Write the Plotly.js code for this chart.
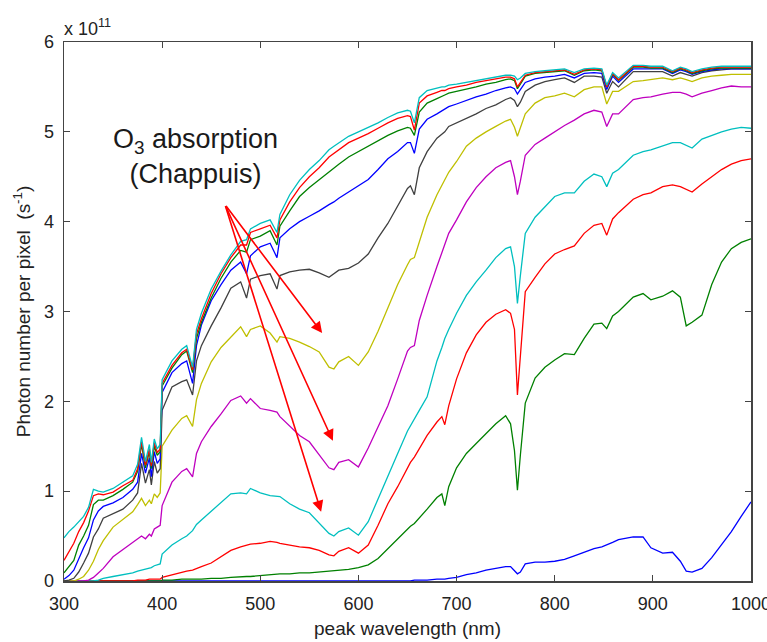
<!DOCTYPE html>
<html>
<head>
<meta charset="utf-8">
<script src="https://cdn.plot.ly/plotly-3.0.1.min.js"></script>
<style>html,body{margin:0;padding:0;background:#fff;}#chart{width:767px;height:642px;}</style>
</head>
<body>
<div id="chart"></div>
<script>
// wavelength grid (nm)
const wavelength = [300,305,310,315,320,325,330,335,340,350,
360,370,375,379,383,387,389,392,395,398,
400,410,420,425,431,435,440,450,460,470,
480,486,490,500,510,517,520,530,540,550,
560,570,575,580,590,600,610,620,630,640,
650,653,657,662,670,680,685,688,692,700,
710,720,730,740,750,755,759,762,765,770,
780,790,800,810,820,830,840,848,853,859,
865,880,890,898,910,920,928,934,940,950,
960,970,980,990,1000];

// photon number per pixel (units of 1e11 s^-1), one array per curve, bottom to top
const blue1 = [0,0,0,0,0,0,0,0,0,0,
0,0,0,0,0,0,0,0,0,0,
0,0,0,0,0,0,0,0,0,0,
0,0,0,0,0,0,0,0,0,0,
0,0,0,0,0,0,0,0,0,0,
0,0,0.01,0.01,0.01,0.02,0.02,0.02,0.03,0.04,
0.07,0.09,0.12,0.14,0.16,0.16,0.12,0.08,0.10,0.19,
0.21,0.21,0.22,0.24,0.28,0.32,0.36,0.38,0.40,0.43,
0.46,0.49,0.49,0.37,0.31,0.32,0.22,0.11,0.10,0.14,
0.26,0.40,0.55,0.72,0.88];

const green1 = [0,0,0,0,0,0,0,0,0,0,
0,0,0,0,0,0,0,0,0,0,
0.01,0.01,0.02,0.02,0.02,0.02,0.02,0.03,0.03,0.04,
0.05,0.05,0.05,0.06,0.07,0.08,0.08,0.08,0.09,0.09,
0.10,0.11,0.11,0.12,0.13,0.15,0.18,0.25,0.36,0.47,
0.58,0.61,0.64,0.70,0.80,0.93,0.97,0.84,1.05,1.26,
1.42,1.53,1.64,1.75,1.84,1.75,1.45,1.01,1.40,1.98,
2.26,2.38,2.46,2.53,2.52,2.70,2.86,2.87,2.81,2.95,
3.00,3.16,3.20,3.13,3.17,3.23,3.16,2.84,2.88,2.96,
3.30,3.55,3.70,3.77,3.81];

const red1 = [0,0,0,0,0,0,0,0,0,0,
0,0,0.01,0.01,0.01,0.02,0.02,0.02,0.02,0.02,
0.04,0.07,0.10,0.11,0.12,0.14,0.16,0.20,0.27,0.34,
0.38,0.40,0.41,0.42,0.44,0.43,0.42,0.40,0.38,0.37,
0.34,0.29,0.28,0.33,0.37,0.31,0.40,0.62,0.86,1.05,
1.26,1.32,1.38,1.47,1.62,1.77,1.83,1.74,1.95,2.25,
2.54,2.74,2.88,2.97,3.02,2.98,2.80,2.07,2.50,3.22,
3.38,3.53,3.64,3.69,3.73,3.87,3.96,3.98,3.85,4.03,
4.10,4.25,4.30,4.32,4.39,4.41,4.39,4.36,4.33,4.42,
4.50,4.58,4.64,4.68,4.70];

const cyan1 = [0,0,0,0,0,0,0,0.01,0.03,0.05,
0.07,0.09,0.11,0.12,0.13,0.14,0.15,0.17,0.18,0.19,
0.30,0.40,0.47,0.50,0.56,0.63,0.68,0.78,0.88,0.97,
0.98,0.97,1.03,0.98,0.95,0.94,0.94,0.86,0.80,0.76,
0.64,0.53,0.50,0.55,0.59,0.51,0.66,0.92,1.18,1.42,
1.67,1.73,1.80,1.90,2.05,2.45,2.60,2.70,2.80,2.98,
3.18,3.33,3.46,3.60,3.70,3.72,3.50,3.09,3.40,3.87,
4.05,4.16,4.28,4.32,4.32,4.45,4.53,4.50,4.39,4.54,
4.58,4.74,4.78,4.80,4.84,4.88,4.88,4.85,4.82,4.92,
4.96,5.00,5.03,5.05,5.04];

const magenta = [0,0,0,0,0,0.01,0.04,0.09,0.14,0.27,
0.35,0.43,0.47,0.50,0.47,0.52,0.50,0.58,0.60,0.62,
0.84,1.10,1.22,1.25,1.16,1.42,1.55,1.72,1.86,2.01,
2.06,1.98,2.03,1.92,1.90,1.88,1.83,1.72,1.62,1.55,
1.40,1.26,1.24,1.32,1.35,1.27,1.48,1.72,1.95,2.25,
2.56,2.60,2.62,2.90,3.18,3.50,3.65,3.74,3.87,4.02,
4.22,4.38,4.50,4.60,4.66,4.68,4.50,4.30,4.45,4.74,
4.86,4.93,5.00,5.07,5.13,5.20,5.24,5.22,5.06,5.20,
5.20,5.36,5.38,5.39,5.42,5.44,5.44,5.42,5.39,5.43,
5.46,5.49,5.51,5.50,5.50];

const yellow = [0,0,0,0.02,0.05,0.12,0.22,0.35,0.45,0.60,
0.68,0.77,0.85,0.92,0.84,0.90,0.86,0.97,0.93,0.98,
1.50,1.68,1.81,1.84,1.72,2.02,2.20,2.44,2.60,2.72,
2.83,2.72,2.80,2.84,2.76,2.66,2.72,2.70,2.66,2.61,
2.55,2.38,2.36,2.44,2.50,2.40,2.55,2.78,3.05,3.30,
3.52,3.58,3.60,3.78,4.05,4.30,4.40,4.46,4.55,4.67,
4.84,4.93,5.00,5.06,5.12,5.14,5.05,4.95,5.05,5.20,
5.32,5.38,5.40,5.43,5.39,5.47,5.50,5.50,5.31,5.45,
5.45,5.56,5.57,5.58,5.60,5.58,5.60,5.58,5.56,5.60,
5.62,5.63,5.64,5.64,5.64];

const black = [0,0.01,0.03,0.10,0.20,0.31,0.49,0.58,0.70,0.75,
0.80,0.90,0.98,1.31,1.09,1.24,1.07,1.33,1.20,1.25,
1.90,2.16,2.22,2.24,2.07,2.45,2.62,2.84,3.04,3.26,
3.33,3.15,3.36,3.40,3.42,3.25,3.40,3.44,3.46,3.47,
3.43,3.38,3.42,3.46,3.48,3.54,3.64,3.82,3.98,4.18,
4.37,4.40,4.30,4.60,4.78,4.93,4.98,5.00,5.06,5.10,
5.15,5.20,5.26,5.30,5.36,5.38,5.35,5.28,5.33,5.45,
5.52,5.56,5.58,5.60,5.55,5.62,5.62,5.61,5.43,5.56,
5.50,5.67,5.67,5.67,5.67,5.62,5.66,5.64,5.62,5.66,
5.68,5.69,5.70,5.70,5.70];

const blue2 = [0.02,0.06,0.12,0.25,0.37,0.48,0.68,0.78,0.83,0.87,
0.93,1.02,1.10,1.42,1.20,1.37,1.16,1.44,1.31,1.36,
2.10,2.32,2.42,2.45,2.20,2.62,2.85,3.12,3.30,3.46,
3.55,3.42,3.62,3.72,3.76,3.60,3.82,3.92,4.00,4.06,
4.12,4.19,4.22,4.26,4.33,4.40,4.47,4.58,4.70,4.78,
4.88,4.88,4.76,5.03,5.14,5.20,5.23,5.25,5.28,5.31,
5.35,5.39,5.42,5.46,5.49,5.50,5.48,5.42,5.47,5.55,
5.59,5.61,5.62,5.64,5.60,5.65,5.66,5.65,5.47,5.62,
5.55,5.70,5.70,5.70,5.70,5.65,5.69,5.67,5.64,5.67,
5.69,5.70,5.70,5.70,5.70];

const green2 = [0.09,0.16,0.23,0.40,0.50,0.62,0.85,0.90,0.90,0.95,
1.02,1.10,1.22,1.52,1.26,1.44,1.25,1.50,1.40,1.44,
2.17,2.37,2.52,2.56,2.32,2.70,2.88,3.15,3.37,3.55,
3.68,3.66,3.80,3.84,3.90,3.74,3.95,4.12,4.28,4.38,
4.47,4.56,4.60,4.64,4.72,4.78,4.84,4.90,4.96,5.01,
5.05,5.04,4.96,5.22,5.32,5.37,5.40,5.41,5.43,5.45,
5.47,5.50,5.53,5.55,5.58,5.59,5.57,5.48,5.53,5.62,
5.65,5.66,5.67,5.68,5.63,5.68,5.69,5.68,5.50,5.64,
5.57,5.72,5.72,5.71,5.71,5.66,5.70,5.68,5.65,5.68,
5.70,5.71,5.71,5.71,5.71];

const red2 = [0.23,0.33,0.42,0.55,0.65,0.78,0.95,0.97,0.96,0.99,
1.06,1.12,1.25,1.55,1.29,1.47,1.28,1.54,1.43,1.47,
2.20,2.40,2.54,2.58,2.35,2.75,2.92,3.20,3.42,3.60,
3.74,3.74,3.88,3.92,3.96,3.82,4.02,4.22,4.38,4.50,
4.60,4.72,4.76,4.80,4.88,4.93,4.98,5.04,5.10,5.15,
5.18,5.17,5.02,5.32,5.40,5.44,5.46,5.46,5.48,5.50,
5.52,5.55,5.57,5.59,5.61,5.61,5.59,5.50,5.55,5.63,
5.66,5.67,5.68,5.69,5.64,5.69,5.70,5.69,5.50,5.65,
5.58,5.73,5.73,5.72,5.72,5.67,5.71,5.69,5.66,5.69,
5.71,5.72,5.72,5.72,5.72];

const cyan2 = [0.48,0.55,0.60,0.66,0.72,0.82,1.02,1.00,0.99,1.03,
1.10,1.17,1.30,1.60,1.33,1.52,1.32,1.58,1.47,1.52,
2.24,2.45,2.58,2.62,2.38,2.80,2.98,3.25,3.45,3.63,
3.78,3.80,3.92,3.98,4.02,3.88,4.08,4.30,4.46,4.58,
4.68,4.80,4.84,4.88,4.95,5.00,5.05,5.10,5.16,5.21,
5.24,5.23,5.10,5.38,5.46,5.49,5.50,5.50,5.52,5.53,
5.55,5.57,5.59,5.61,5.63,5.63,5.62,5.58,5.60,5.65,
5.67,5.68,5.69,5.70,5.66,5.70,5.71,5.70,5.52,5.66,
5.60,5.74,5.74,5.73,5.73,5.68,5.72,5.70,5.67,5.70,
5.72,5.73,5.73,5.73,5.73];

const xTicks = [300,400,500,600,700,800,900,1000];
const xTickText = ['300','400','500','600','700','800','900','1000'];
const yTicks = [0,1,2,3,4,5,6];
const yTickText = ['0','1','2','3','4','5','6'];

// arrows: common tail and three heads (wavelength nm, value 1e11)
const arrowTail = [464, 4.19];
const arrowHeadX = [563, 574, 562];
const arrowHeadY = [2.76, 1.56, 0.77];

const series = [blue1, green1, red1, cyan1, magenta, yellow, black, blue2, green2, red2, cyan2];
const colors = ['#0000ff','#008000','#ff0000','#00bfbf','#bf00bf','#bfbf00','#404040','#0000ff','#008000','#ff0000','#00bfbf'];

const traces = series.map((s, i) => ({
  x: wavelength, y: s, type: 'scatter', mode: 'lines',
  line: {color: colors[i], width: 1.3}, hoverinfo: 'skip'
}));

const font = 'Liberation Sans, Arial, Helvetica, sans-serif';
const axisCommon = {
  showline: true, linecolor: '#444', linewidth: 1.5, mirror: 'ticks',
  ticks: 'inside', ticklen: 6, tickwidth: 1.2, tickcolor: '#444',
  showgrid: false, zeroline: false, automargin: false,
  ticklabeloverflow: 'allow',
  tickfont: {family: font, size: 18, color: '#222'}
};

const annotations = arrowHeadX.map((hx, i) => ({
  x: hx, y: arrowHeadY[i], xref: 'x', yref: 'y',
  ax: arrowTail[0], ay: arrowTail[1], axref: 'x', ayref: 'y',
  showarrow: true, arrowhead: 2, arrowsize: 1.4, arrowwidth: 1.6,
  arrowcolor: '#ff0000', text: ''
}));
annotations.push({
  x: 433.5, y: 4.72, xref: 'x', yref: 'y', showarrow: false,
  text: 'O<sub>3</sub> absorption<br>(Chappuis)', align: 'center',
  font: {family: font, size: 27, color: '#1a1a1a'}
});
annotations.push({
  x: 0, y: 1, xref: 'paper', yref: 'paper', xanchor: 'left', yanchor: 'bottom',
  xshift: -2, yshift: 1, showarrow: false,
  text: 'x 10<sup>11</sup>', font: {family: font, size: 18, color: '#222'}
});

const layout = {
  width: 767, height: 642,
  margin: {l: 64, r: 16, t: 42, b: 61},
  paper_bgcolor: '#fff', plot_bgcolor: '#fff',
  showlegend: false, hovermode: false,
  xaxis: Object.assign({}, axisCommon, {
    range: [300, 1000], tickvals: xTicks, ticktext: xTickText, ticklabelstandoff: 6,
    title: {text: 'peak wavelength (nm)', standoff: 8, font: {family: font, size: 19, color: '#222'}}
  }),
  yaxis: Object.assign({}, axisCommon, {
    range: [0, 6], tickvals: yTicks, ticktext: yTickText, ticklabelstandoff: 5,
    title: {text: 'Photon number per pixel  (s<sup>-1</sup>)', standoff: 8, font: {family: font, size: 19, color: '#222'}}
  }),
  annotations: annotations
};

Plotly.newPlot('chart', traces, layout, {staticPlot: true, displayModeBar: false});
</script>
</body>
</html>
